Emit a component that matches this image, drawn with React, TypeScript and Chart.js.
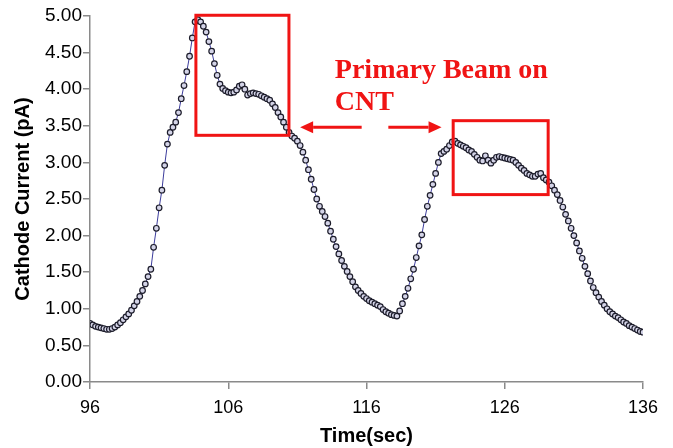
import { useEffect, useRef } from "react";
import { Chart, registerables } from "chart.js";

Chart.register(...registerables);

// Sampling of the cathode current trace
const TIME_START = 96; // sec
const TIME_STEP = 0.2; // sec

// Cathode current (pA), one value per sample
const CURRENT_PA = [
  0.80, 0.78, 0.76, 0.75, 0.74, 0.73, 0.72, 0.72, 0.73, 0.75,
  0.78, 0.81, 0.85, 0.89, 0.93, 0.98, 1.04, 1.10, 1.17, 1.25,
  1.34, 1.44, 1.54, 1.84, 2.10, 2.38, 2.62, 2.96, 3.25, 3.41,
  3.48, 3.55, 3.68, 3.87, 4.05, 4.24, 4.45, 4.70, 4.92, 4.95,
  4.92, 4.86, 4.78, 4.65, 4.52, 4.35, 4.19, 4.07, 4.01, 3.98,
  3.96, 3.95, 3.96, 3.99, 4.04, 4.06, 4.00, 3.92, 3.94, 3.95,
  3.94, 3.93, 3.91, 3.89, 3.87, 3.85, 3.80, 3.75, 3.68, 3.62,
  3.55, 3.48, 3.41, 3.36, 3.33, 3.29, 3.23, 3.14, 3.03, 2.90,
  2.77, 2.63, 2.50, 2.40, 2.33, 2.26, 2.17, 2.06, 1.95, 1.85,
  1.75, 1.66, 1.58, 1.51, 1.44, 1.37, 1.30, 1.25, 1.21, 1.17,
  1.14, 1.11, 1.09, 1.07, 1.05, 1.03, 0.99, 0.96, 0.94, 0.92,
  0.91, 0.90, 0.97, 1.07, 1.17, 1.28, 1.41, 1.54, 1.70, 1.86,
  2.01, 2.22, 2.40, 2.55, 2.70, 2.85, 3.00, 3.12, 3.15, 3.18,
  3.23, 3.28, 3.29, 3.26, 3.24, 3.22, 3.20, 3.17, 3.15, 3.11,
  3.07, 3.03, 3.02, 3.09, 3.03, 2.99, 3.03, 3.07, 3.08, 3.07,
  3.06, 3.05, 3.04, 3.03, 3.00, 2.96, 2.92, 2.89, 2.85, 2.83,
  2.81, 2.81, 2.84, 2.85, 2.79, 2.76, 2.73, 2.68, 2.62, 2.56,
  2.48, 2.39, 2.29, 2.20, 2.10, 2.00, 1.90, 1.79, 1.69, 1.58,
  1.48, 1.38, 1.29, 1.22, 1.16, 1.10, 1.05, 1.00, 0.96, 0.93,
  0.90, 0.88, 0.85, 0.82, 0.80, 0.77, 0.75, 0.73, 0.71, 0.69,
  0.68,
];

const X_TICKS = [96, 106, 116, 126, 136];
const Y_TICKS = [0, 0.5, 1, 1.5, 2, 2.5, 3, 3.5, 4, 4.5, 5];

// Intervals where the primary beam sits on the CNT (time span, current span)
const BEAM_BOX_TIMES = [
  [103.66, 110.39],
  [122.27, 129.14],
];
const BEAM_BOX_CURRENTS = [
  [3.37, 5.01],
  [2.56, 3.57],
];

// Arrows pointing from the note to each box: [tail time, tip time, current]
const NOTE_ARROWS = [
  [115.65, 111.2, 3.48],
  [117.58, 121.43, 3.48],
];
const NOTE_LINES = ["Primary Beam on", "CNT"];
const NOTE_TIME = 113.71;
const NOTE_LINE_CURRENTS = [4.15, 3.71];

const RED = "#f01414";
const AXIS_GRAY = "#8a8a8a";
const SANS = "'Liberation Sans', Arial, sans-serif";

const points = CURRENT_PA.map((v, i) => ({
  x: +(TIME_START + i * TIME_STEP).toFixed(2),
  y: v,
}));

const beamNotes = {
  id: "beamNotes",
  afterDatasetsDraw(chart: any) {
    const { ctx, scales } = chart;
    const xs = scales.x;
    const ys = scales.y;
    ctx.save();
    ctx.strokeStyle = RED;
    ctx.fillStyle = RED;
    ctx.lineWidth = 3;

    BEAM_BOX_TIMES.forEach(([t0, t1], i) => {
      const [v0, v1] = BEAM_BOX_CURRENTS[i];
      const x0 = xs.getPixelForValue(t0);
      const x1 = xs.getPixelForValue(t1);
      const y0 = ys.getPixelForValue(v1);
      const y1 = ys.getPixelForValue(v0);
      ctx.strokeRect(x0, y0, x1 - x0, y1 - y0);
    });

    NOTE_ARROWS.forEach(([tail, tip, v]) => {
      const xa = xs.getPixelForValue(tail);
      const xb = xs.getPixelForValue(tip);
      const y = ys.getPixelForValue(v);
      const dir = Math.sign(xb - xa);
      const head = 13;
      ctx.beginPath();
      ctx.moveTo(xa, y);
      ctx.lineTo(xb - dir * head, y);
      ctx.stroke();
      ctx.beginPath();
      ctx.moveTo(xb, y);
      ctx.lineTo(xb - dir * head, y - 6);
      ctx.lineTo(xb - dir * head, y + 6);
      ctx.closePath();
      ctx.fill();
    });

    ctx.font = "bold 28px 'Liberation Serif', 'Times New Roman', serif";
    ctx.textAlign = "left";
    ctx.textBaseline = "alphabetic";
    NOTE_LINES.forEach((line, i) => {
      ctx.fillText(line, xs.getPixelForValue(NOTE_TIME), ys.getPixelForValue(NOTE_LINE_CURRENTS[i]));
    });
    ctx.restore();
  },
};

export default function App() {
  const canvasRef = useRef<HTMLCanvasElement | null>(null);

  useEffect(() => {
    document.body.style.margin = "0";
    const canvas = canvasRef.current;
    if (!canvas) return;
    const chart = new Chart(canvas, {
      type: "line",
      data: {
        datasets: [
          {
            data: points,
            borderColor: "#3c3c9c",
            borderWidth: 1,
            pointRadius: 2.8,
            pointBorderWidth: 1.2,
            pointBorderColor: "#1c1c2a",
            pointBackgroundColor: "#d4d4e8",
            tension: 0,
            fill: false,
          },
        ],
      },
      options: {
        animation: false,
        responsive: true,
        maintainAspectRatio: false,
        layout: { padding: { top: 16, right: 30, left: 0, bottom: 0 } },
        plugins: {
          legend: { display: false },
          tooltip: { enabled: false },
        },
        scales: {
          x: {
            type: "linear",
            min: 96,
            max: 136,
            afterBuildTicks: (scale: any) => {
              scale.ticks = X_TICKS.map((value) => ({ value }));
            },
            afterFit: (scale: any) => {
              scale.height = 66;
            },
            grid: {
              display: true,
              drawOnChartArea: false,
              drawTicks: true,
              tickLength: 7,
              color: AXIS_GRAY,
              lineWidth: 1.5,
            },
            border: { display: true, color: AXIS_GRAY, width: 1.5 },
            ticks: {
              color: "#000",
              padding: 8,
              maxRotation: 0,
              font: { family: SANS, size: 18 },
              callback: (v: any) => String(v),
            },
            title: {
              display: true,
              text: "Time(sec)",
              color: "#000",
              font: { family: SANS, size: 20, weight: "bold" },
              padding: { top: 0, bottom: 0 },
            },
          },
          y: {
            type: "linear",
            min: 0,
            max: 5,
            afterBuildTicks: (scale: any) => {
              scale.ticks = Y_TICKS.map((value) => ({ value }));
            },
            afterFit: (scale: any) => {
              scale.width = 90;
            },
            grid: {
              display: true,
              drawOnChartArea: false,
              drawTicks: true,
              tickLength: 7,
              color: AXIS_GRAY,
              lineWidth: 1.5,
            },
            border: { display: true, color: AXIS_GRAY, width: 1.5 },
            ticks: {
              color: "#000",
              padding: 1,
              font: { family: SANS, size: 19 },
              callback: (v: any) => Number(v).toFixed(2),
            },
            title: {
              display: true,
              text: "Cathode Current (pA)",
              color: "#000",
              font: { family: SANS, size: 20, weight: "bold" },
              padding: { top: 11, bottom: 0 },
            },
          },
        },
      },
      plugins: [beamNotes],
    });
    return () => chart.destroy();
  }, []);

  return (
    <div style={{ position: "fixed", left: 0, top: 0, width: 673, height: 448, background: "#fff" }}>
      <canvas ref={canvasRef} />
    </div>
  );
}
